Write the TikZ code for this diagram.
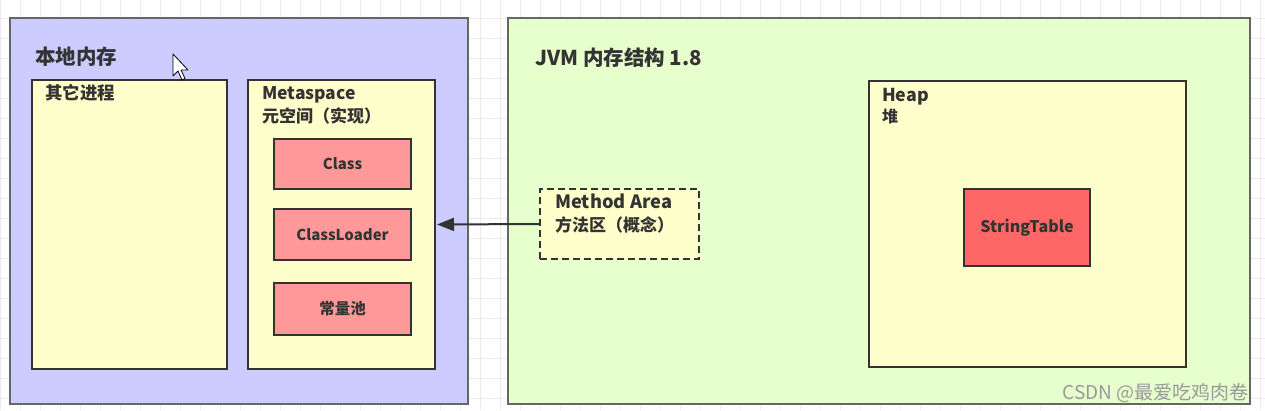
\documentclass[tikz,border=0pt]{standalone}
\usepackage{fontspec}
\setmainfont{Noto Sans CJK SC}
\usetikzlibrary{
	positioning,
	arrows.meta
}

\definecolor{gridline}{HTML}{EBEBEB}
\definecolor{nativeblue}{HTML}{CCCCFF}
\definecolor{jvmgreen}{HTML}{E6FFCC}
\definecolor{paleyellow}{HTML}{FFFFCC}
\definecolor{partred}{HTML}{FF9999}
\definecolor{tablered}{HTML}{FF6666}
\definecolor{ink}{HTML}{333333}

\tikzset{
	area/.style={draw=black!60,line width=1.2pt,anchor=north west,inner sep=0pt,outer sep=0pt},
	region/.style={draw=ink,line width=2pt,fill=paleyellow,anchor=north west,inner sep=0pt,outer sep=0pt},
	part/.style={region,fill=partred,anchor=center,text=ink,font=\bfseries\fontsize{15}{16}\selectfont},
	title/.style={anchor=base west,inner sep=0pt,text=ink,font=\bfseries\fontsize{#1}{#1}\selectfont},
	title/.default=17.5
}

\begin{document}
\begin{tikzpicture}[x=1pt,y=-1pt]
	\useasboundingbox (0,0) rectangle (1265,410);
	\fill[white] (0,0) rectangle (1265,410);
	% canvas grid
	\foreach \gx in {0,20,...,1260} \draw[gridline,line width=0.8pt] (\gx,0) -- (\gx,410);
	\foreach \gy in {18,38,...,398} \draw[gridline,line width=0.8pt] (0,\gy) -- (1265,\gy);

	% native memory
	\node [area,fill=nativeblue,minimum width=458pt,minimum height=386pt] (native) at (10,18) {};
	\node [title=20.5] (nativetitle) at ([shift={(25,46)}]native.north west) {本地内存};
	\node [region,minimum width=195pt,minimum height=289pt] (other) at (32,80) {};
	\node [title] (othertitle) at ([shift={(13,19)}]other.north west) {其它进程};
	\node [region,minimum width=187pt,minimum height=289pt] (meta) at (248,80) {};
	\node [title] (metatitle) at ([shift={(14,19)}]meta.north west) {Metaspace};
	\node [title=17] (metasub) at ([shift={(14,42)}]meta.north west) {元空间（实现）};
	\node [part,minimum width=137pt,minimum height=50pt] (class) at (342.5,164) {Class};
	\node [part,minimum width=137pt,minimum height=51pt] (loader) at (342.5,234.5) {ClassLoader};
	\node [part,minimum width=137pt,minimum height=52pt,font=\bfseries\fontsize{15.5}{16}\selectfont] (pool) at (342.5,309) {常量池};

	% jvm memory structure
	\node [area,fill=jvmgreen,minimum width=742pt,minimum height=386pt] (jvm) at (508,18) {};
	\node [title=20.5] (jvmtitle) at ([shift={(27,47)}]jvm.north west) {JVM 内存结构 1.8};
	\node [region,dashed,dash pattern=on 7pt off 4pt,minimum width=159pt,minimum height=70pt] (method) at (540,189) {};
	\node [title=18.3] (methodtitle) at ([shift={(15,19)}]method.north west) {Method Area};
	\node [title=17] (methodsub) at ([shift={(15,42)}]method.north west) {方法区（概念）};
	\node [region,minimum width=317pt,minimum height=286pt] (heap) at (869,81) {};
	\node [title=17.8] (heaptitle) at ([shift={(13,20)}]heap.north west) {Heap};
	\node [title=16] (heapsub) at ([shift={(13,41)}]heap.north west) {堆};
	\node [part,fill=tablered,minimum width=126pt,minimum height=77pt,font=\bfseries\fontsize{16}{16}\selectfont] (table) at (1027,227.5) {StringTable};

	\draw [ink,line width=2pt,-{Triangle[length=17pt,width=13pt]},shorten >=2pt] (method.west) -- (meta.east);

	% watermark and pointer
	\node [anchor=base east,inner sep=0pt,text=black!40,font=\fontsize{19}{19}\selectfont] (mark) at (1249,399) {CSDN @最爱吃鸡肉卷};
	\draw [fill=white,draw=black,line width=0.8pt,line join=round]
		(173,54) -- (173,76) -- (178,71) -- (182,80) -- (185,78.5) -- (181,70) -- (188,70) -- cycle;
\end{tikzpicture}
\end{document}
